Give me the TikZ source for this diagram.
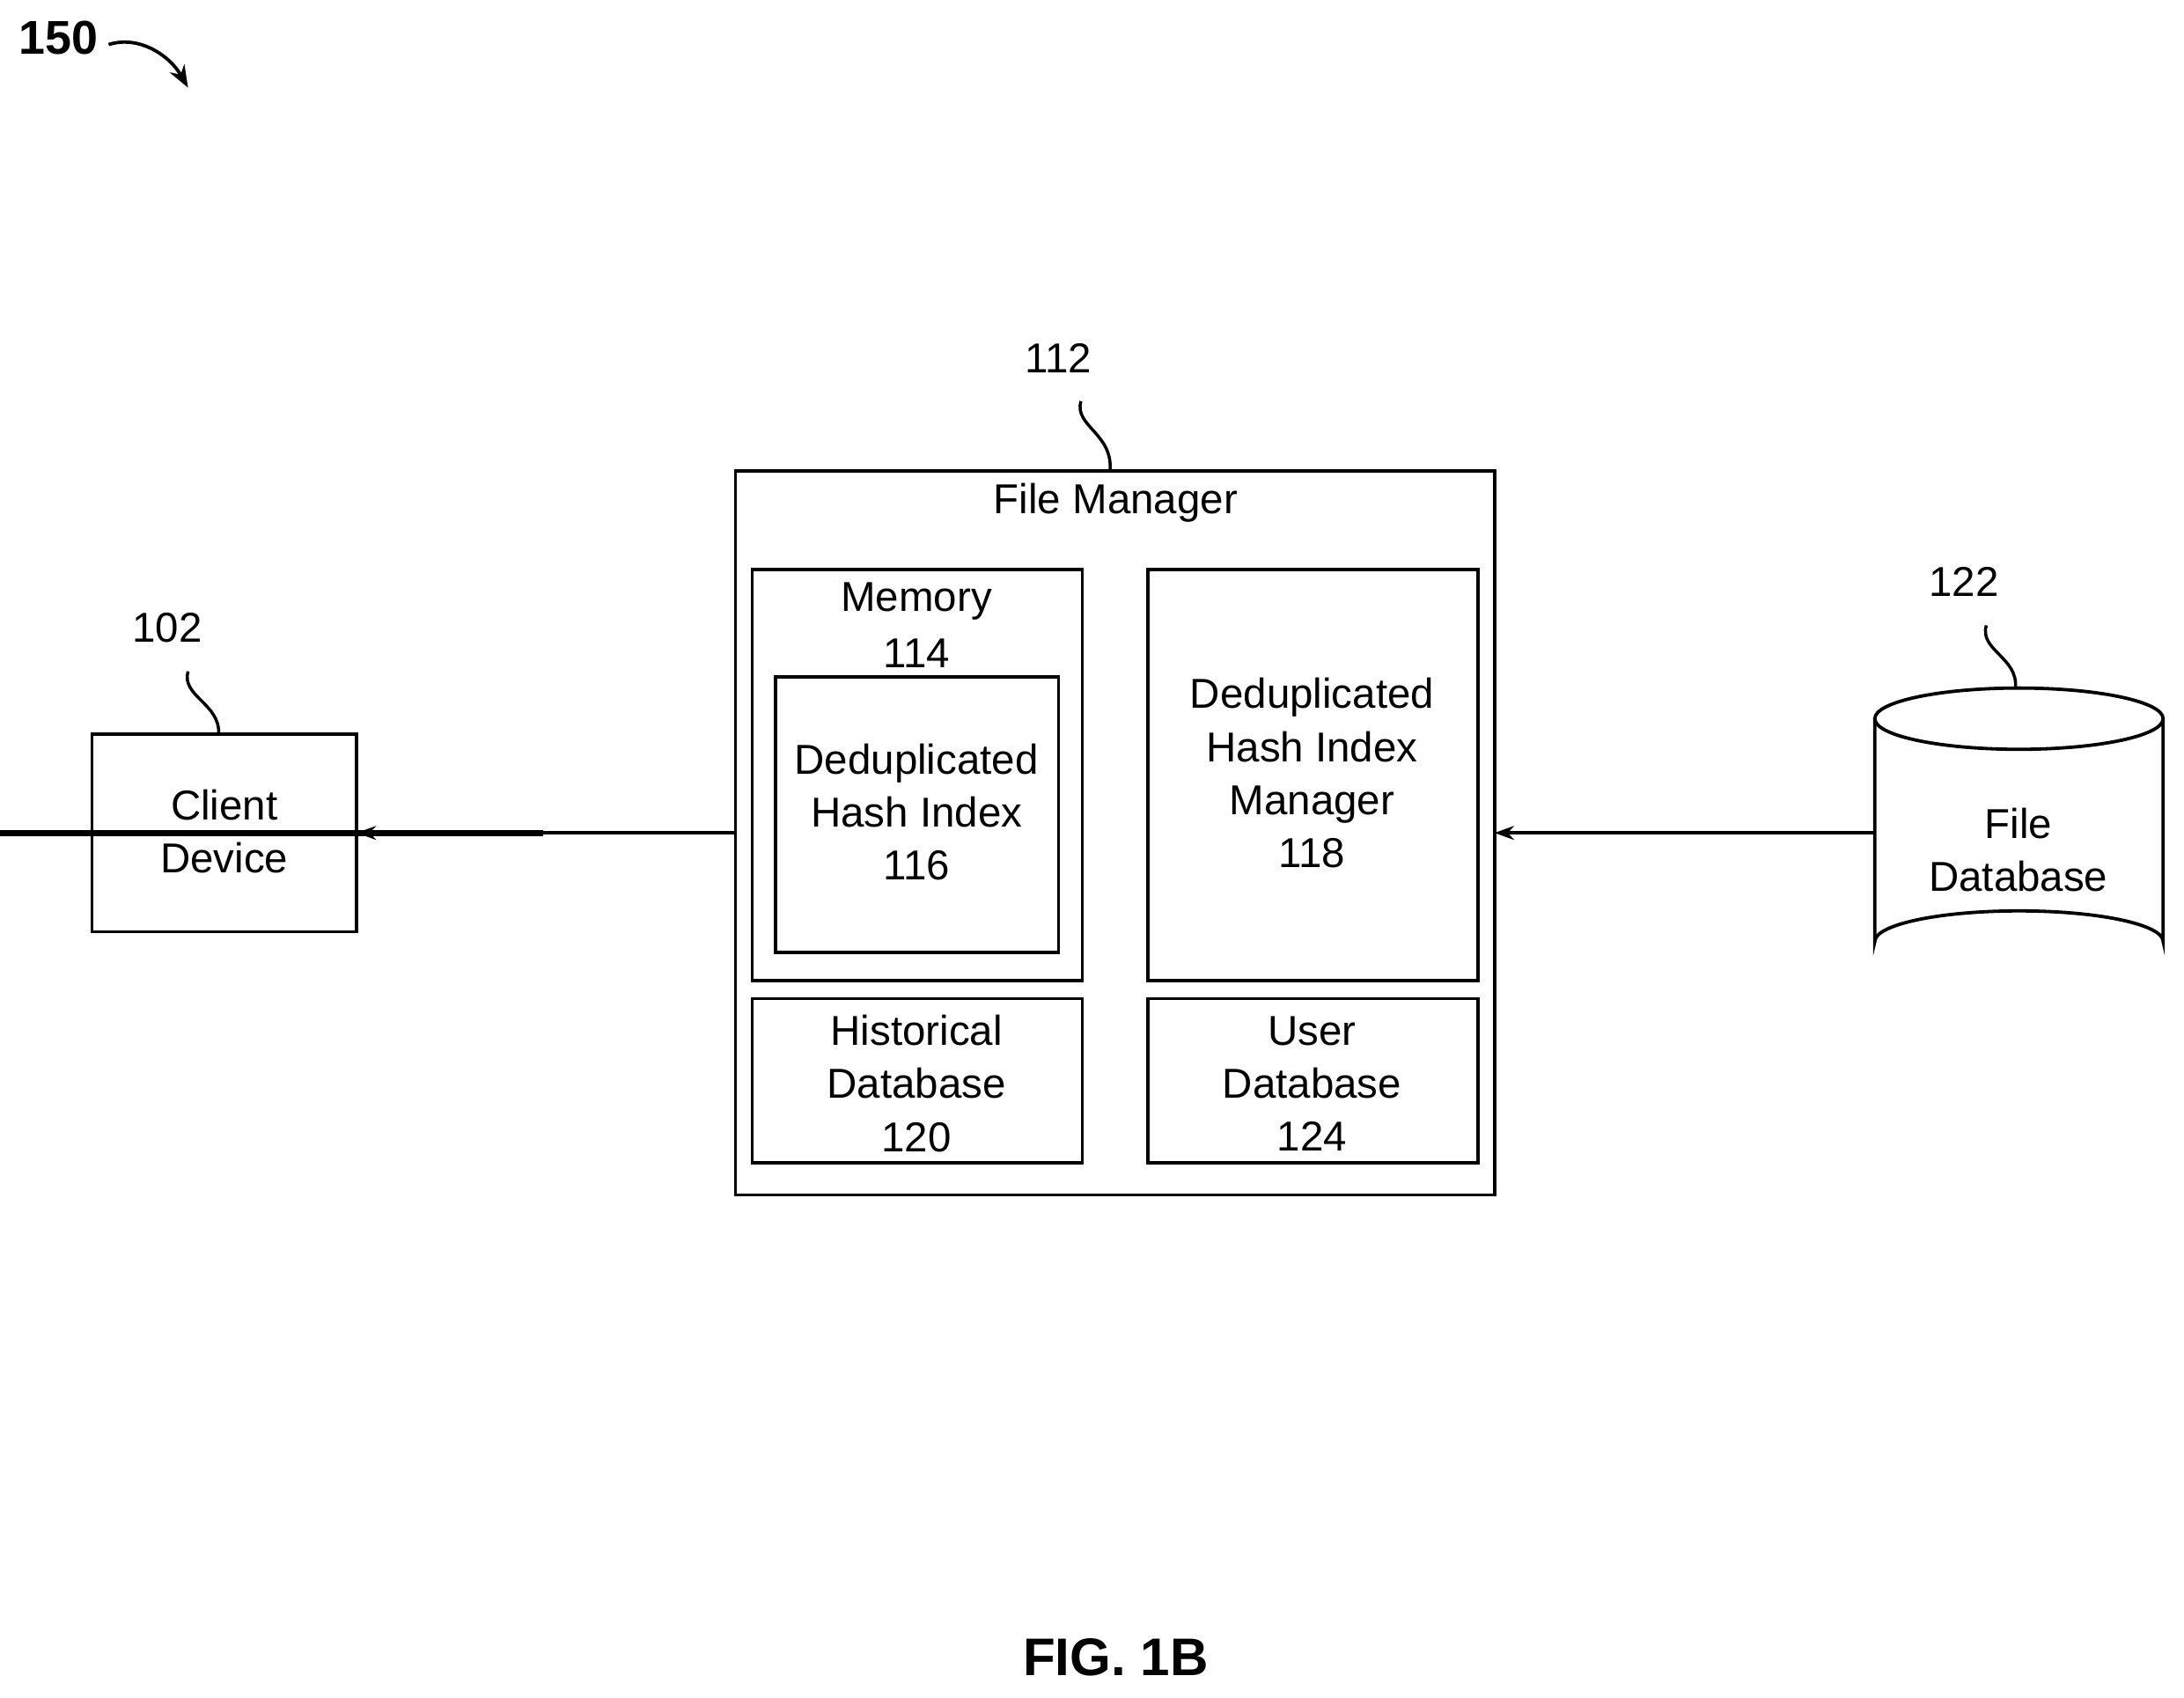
\documentclass[tikz,border=0pt]{standalone}
\usepackage{fontspec}
\setmainfont{Liberation Sans}
\usetikzlibrary{arrows.meta}
\begin{document}
\begin{tikzpicture}[x=0.5pt,y=-0.5pt,
  box/.style={draw,line width=1.2pt,inner sep=0pt},
  txt/.style={font=\fontsize{15}{19}\selectfont,align=center},
  lab/.style={font=\fontsize{15}{19}\selectfont},
  conn/.style={line width=1.1pt,-{Stealth[length=7pt,width=5pt]}},
  sq/.style={line width=1.1pt}]
\useasboundingbox (0,0) rectangle (1568,1219);
% boxes
\node[box,minimum width=190\pgflinewidth] (client) at (161,598) {};
\draw[line width=1.2pt] (66,527) rectangle (256,669);
\node[txt] (clientt) at (161,597) {Client\\Device};
\coordinate (cR) at (256,598);
\draw[line width=1.2pt] (528,338) rectangle (1073,858);
\coordinate (fmL) at (528,598);
\coordinate (fmR) at (1073,598);
\coordinate (fmT) at (797,338);
\node[lab] (fmt) at (801,361) {File Manager};
\draw[line width=1.2pt] (540,409) rectangle (777,704);
\node[lab] (mem) at (658,432) {Memory};
\node[lab] (mem2) at (658,469) {114};
\draw[line width=1.2pt] (557,486) rectangle (760,684);
\node[txt] (dhi) at (658,583) {Deduplicated\\Hash Index\\116};
\draw[line width=1.2pt] (824,409) rectangle (1061,704);
\node[txt] (dhim) at (942,555) {Deduplicated\\Hash Index\\Manager\\118};
\draw[line width=1.2pt] (540,717) rectangle (777,835);
\node[txt] (hist) at (658,778) {Historical\\Database\\120};
\draw[line width=1.2pt] (824,717) rectangle (1061,835);
\node[txt] (user) at (942,778) {User\\Database\\124};
% cylinder
\draw[line width=1.2pt] (1346,516) -- (1346,676) arc[start angle=180,end angle=360,x radius=103.5,y radius=22] -- (1553,516);
\draw[line width=1.2pt] (1449.5,516) ellipse[x radius=103.5,y radius=22];
\coordinate (dbL) at (1346,598);
\coordinate (dbT) at (1447,494);
\node[txt] (dbt) at (1449,610) {File\\Database};
% arrows
\draw[conn] (fmL) -- (cR);
\draw[conn] (dbL) -- (fmR);
% reference labels
\node[lab] (n102) at (120,451) {102};
\coordinate (cT) at (157,527);
\draw[sq] (135,482) .. controls (130,500) and (158,505) .. (cT);
\node[lab] (n112) at (760,257) {112};
\draw[sq] (776,288) .. controls (771,306) and (799,311) .. (fmT);
\node[lab] (n122) at (1410,418) {122};
\draw[sq] (1426,449) .. controls (1421,467) and (1449,472) .. (dbT);
\node[font=\fontsize{17}{20}\selectfont\bfseries] (n150) at (42,27) {150};
\coordinate (a150) at (135,63);
\draw[line width=1.2pt,-{Stealth[length=8pt,width=6pt]}] (78,32) .. controls (100,25) and (122,40) .. (a150);
\node[font=\fontsize{19}{22}\selectfont\bfseries] (fig) at (801,1190) {FIG. 1B};
\end{tikzpicture}
\end{document}
